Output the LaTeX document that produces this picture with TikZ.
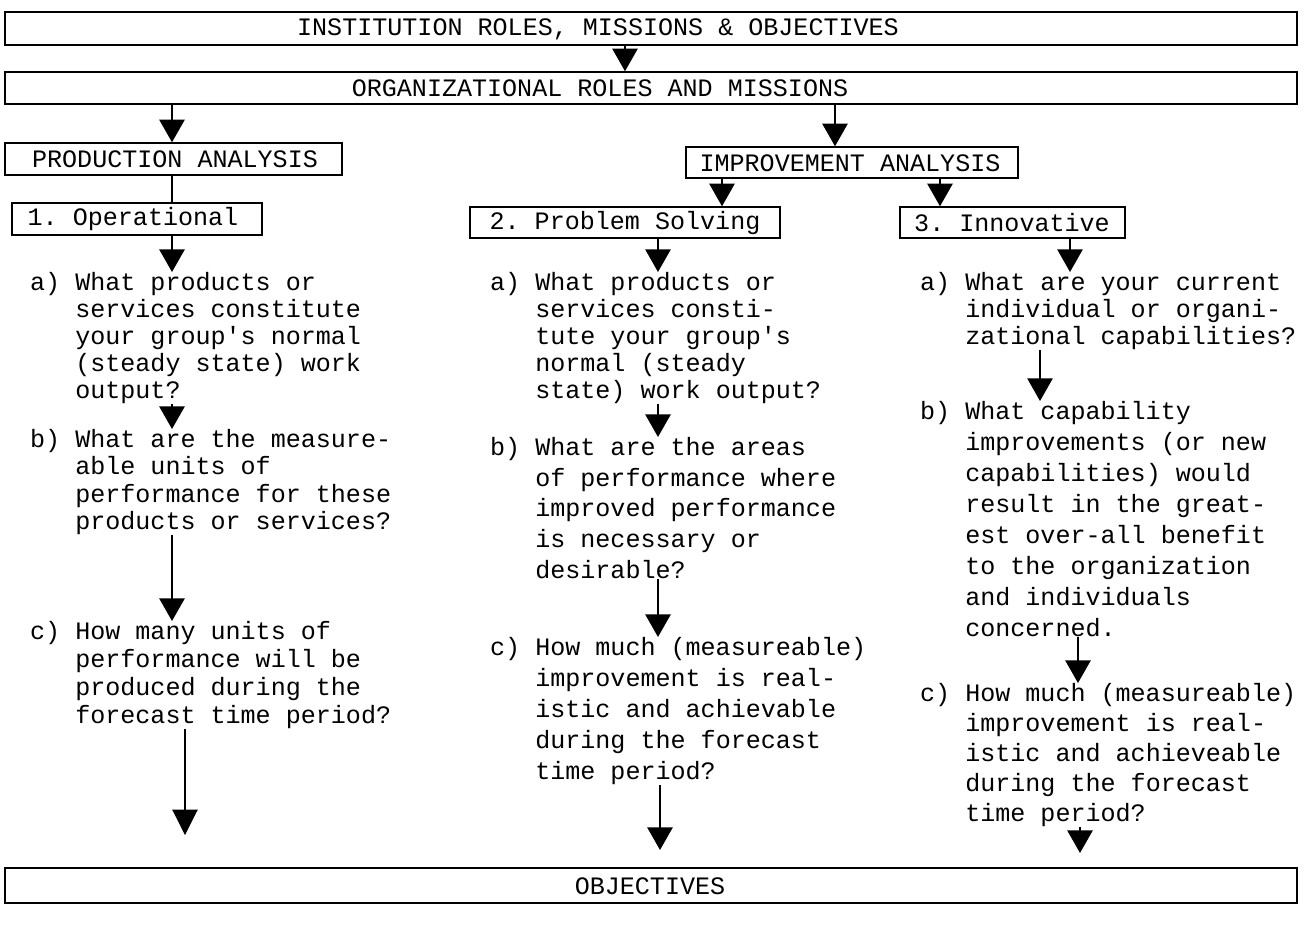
\documentclass[tikz,border=0pt]{standalone}
\usepackage{fontspec}
\setmonofont{Liberation Mono}
\usetikzlibrary{arrows.meta,fit}
\begin{document}
\begin{tikzpicture}[x=0.75pt,y=-0.75pt,
  box/.style={draw,line width=1.1pt,inner sep=0pt},
  lbl/.style={font=\ttfamily\fontsize{18.8}{22}\selectfont,inner sep=0pt},
  q/.style={font=\ttfamily\fontsize{18.8}{#1}\selectfont,align=left,anchor=north west,inner sep=0pt},
  arr/.style={line width=1.3pt,-{Triangle[width=19pt,length=17pt]}},
  thinarr/.style={line width=0.8pt,-{Triangle[width=19pt,length=19pt]}},
  plain/.style={line width=1.2pt}
]
\useasboundingbox (0,0) rectangle (1304,945);
% boxes
\node[box,fit={(5,12) (1297,45)}] (top) {};
\node[box,fit={(5,72) (1297,104)}] (org) {};
\node[box,fit={(5,143) (342,175)}] (prod) {};
\node[box,fit={(12,203) (262,235)}] (oper) {};
\node[box,fit={(686,147) (1018,178)}] (impr) {};
\node[box,fit={(470,207) (780,238)}] (prob) {};
\node[box,fit={(900,207) (1125,238)}] (innov) {};
\node[box,fit={(5,868) (1297,903)}] (obj) {};
% box texts
\node[lbl] (topt) at (598,29) {INSTITUTION ROLES, MISSIONS \& OBJECTIVES};
\node[lbl] (orgt) at (600,88) {ORGANIZATIONAL ROLES AND MISSIONS};
\node[lbl] (prodt) at (175,159) {PRODUCTION ANALYSIS};
\node[lbl] (opert) at (133,219) {1. Operational};
\node[lbl] (imprt) at (850,163) {IMPROVEMENT ANALYSIS};
\node[lbl] (probt) at (625,223) {2. Problem Solving};
\node[lbl] (innovt) at (1012,223) {3. Innovative};
\node[lbl] (objt) at (650,886) {OBJECTIVES};
% questions
\node[q=20.25pt] (a1) at (75,272) {\llap{a)\ }What products or\\services constitute\\your group's normal\\(steady state) work\\output?};
\node[q=20.5pt] (b1) at (75,429) {\llap{b)\ }What are the measure-\\able units of\\performance for these\\products or services?};
\node[q=21pt] (c1) at (75,621) {\llap{c)\ }How many units of\\performance will be\\produced during the\\forecast time period?};
\node[q=20.25pt] (a2) at (535,272) {\llap{a)\ }What products or\\services consti-\\tute your group's\\normal (steady\\state) work output?};
\node[q=23pt] (b2) at (535,437) {\llap{b)\ }What are the areas\\of performance where\\improved performance\\is necessary or\\desirable?};
\node[q=23.25pt] (c2) at (535,637) {\llap{c)\ }How much (measureable)\\improvement is real-\\istic and achievable\\during the forecast\\time period?};
\node[q=20.25pt] (a3) at (965,272) {\llap{a)\ }What are your current\\individual or organi-\\zational capabilities?};
\node[q=23.25pt] (b3) at (965,401) {\llap{b)\ }What capability\\improvements (or new\\capabilities) would\\result in the great-\\est over-all benefit\\to the organization\\and individuals\\concerned.};
\node[q=22.5pt] (c3) at (965,683) {\llap{c)\ }How much (measureable)\\improvement is real-\\istic and achieveable\\during the forecast\\time period?};
% x positions of connectors
\coordinate (k0) at (625,0);
\coordinate (k1) at (172,0);
\coordinate (k2) at (835,0);
\coordinate (k3) at (722,0);
\coordinate (k4) at (940,0);
\coordinate (k5) at (658,0);
\coordinate (k6) at (1070,0);
\coordinate (k7) at (1040,0);
\coordinate (k8) at (1078,0);
% free ends above OBJECTIVES
\coordinate (e1) at (185,835);
\coordinate (e2) at (660,850);
\coordinate (e3) at (1080,853);
% connectors
\draw[arr] (top.south -| k0) -- (org.north -| k0);
\draw[arr] (org.south -| k1) -- (prod.north -| k1);
\draw[arr] (org.south -| k2) -- (impr.north -| k2);
\draw[plain] (prod.south -| k1) -- (oper.north -| k1);
\draw[arr] (impr.south -| k3) -- (prob.north -| k3);
\draw[arr] (impr.south -| k4) -- (innov.north -| k4);
\draw[arr] (oper.south -| k1) -- (a1.north -| k1);
\draw[arr] (a1.south -| k1) -- (b1.north -| k1);
\draw[arr] (b1.south -| k1) -- (c1.north -| k1);
\draw[arr] (prob.south -| k5) -- (a2.north -| k5);
\draw[arr] (a2.south -| k5) -- (b2.north -| k5);
\draw[arr] (b2.south -| k5) -- (c2.north -| k5);
\draw[arr] (innov.south -| k6) -- (a3.north -| k6);
\draw[arr] (a3.south -| k7) -- (b3.north -| k7);
\draw[arr] (b3.south -| k8) -- (c3.north -| k8);
\draw[thinarr] (c1.south -| e1) -- (e1);
\draw[arr] (c2.south -| e2) -- (e2);
\draw[arr] (c3.south -| e3) -- (e3);
\end{tikzpicture}
\end{document}
